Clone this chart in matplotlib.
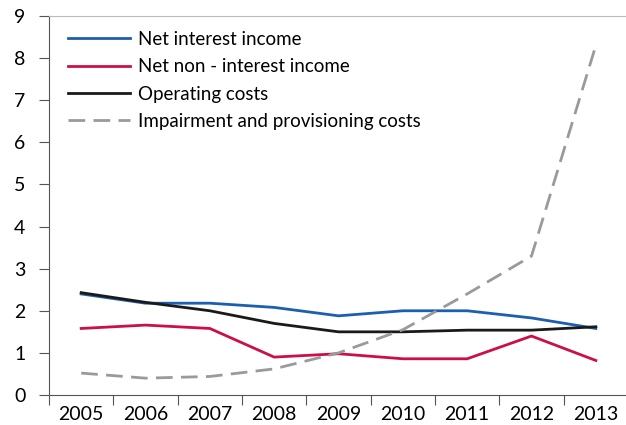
import matplotlib.pyplot as plt

# Datos (porcentaje)
years = ['2005', '2006', '2007', '2008', '2009', '2010', '2011', '2012', '2013']
net_interest = [2.40, 2.18, 2.18, 2.08, 1.88, 2.00, 2.00, 1.83, 1.58]
net_non_interest = [1.58, 1.66, 1.58, 0.90, 0.98, 0.86, 0.86, 1.40, 0.82]
operating_costs = [2.43, 2.20, 2.00, 1.70, 1.50, 1.50, 1.54, 1.54, 1.62]
impairment = [0.52, 0.40, 0.44, 0.62, 1.00, 1.55, 2.40, 3.30, 8.30]

plt.rcParams['font.family'] = ['Lato', 'DejaVu Sans']

fig = plt.figure(figsize=(6.26, 4.25), dpi=100)
ax = fig.add_axes([49 / 626, 30 / 425, 579 / 626, 379 / 425])

x = list(range(len(years)))
ax.plot(x, net_interest, color='#1c5fae', lw=2, label='Net interest income')
ax.plot(x, net_non_interest, color='#cc0f4b', lw=2, label='Net non - interest income')
ax.plot(x, operating_costs, color='#1a1a1a', lw=2, label='Operating costs')
ax.plot(x, impairment, color='#9a9a9c', lw=2, dashes=(6, 3),
        label='Impairment and provisioning costs')

ax.set_xlim(-0.5, len(years) - 0.5)
ax.set_ylim(0, 9)
ax.set_yticks(range(0, 10))

# ticks del eje x entre categorías, etiquetas centradas
ax.set_xticks([i + 0.5 for i in range(-1, len(years))])
ax.set_xticklabels([])
ax.set_xticks(x, minor=True)
ax.set_xticklabels(years, minor=True)
ax.tick_params(axis='x', which='major', direction='out', length=7, color='#555555')
ax.tick_params(axis='x', which='minor', length=0, labelsize=14, pad=8)
ax.tick_params(axis='y', direction='out', length=7, color='#555555', labelsize=14, pad=10)

for side in ['left', 'bottom']:
    ax.spines[side].set_color('#555555')
ax.spines['top'].set_color('#bbbbbb')
ax.spines['right'].set_visible(False)

ax.legend(loc='upper left', frameon=False, fontsize=13.5, handlelength=3.3,
          handletextpad=0.45, labelspacing=0.55, borderaxespad=0.2,
          bbox_to_anchor=(0.013, 0.99))

fig.savefig('out.png', dpi=100)
